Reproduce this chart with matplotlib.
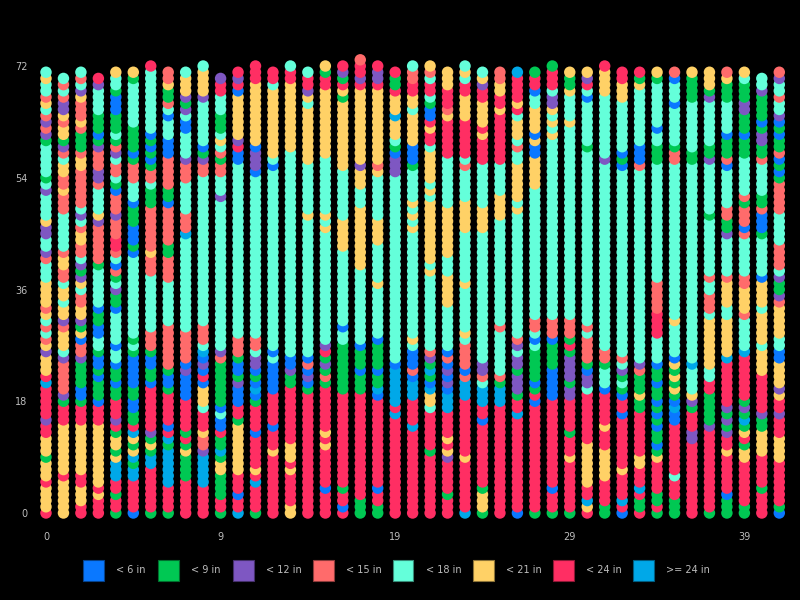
import matplotlib
matplotlib.use('Agg')
import matplotlib.pyplot as plt
from matplotlib.patches import Rectangle
from matplotlib.colors import to_rgb

# categories (legend order) and their one-letter codes used in the column runs
categories = ['< 6 in', '< 9 in', '< 12 in', '< 15 in', '< 18 in', '< 21 in', '< 24 in', '>= 24 in']
codes = ['B', 'G', 'P', 'S', 'C', 'Y', 'R', 'L']
palette = ['#0a78ff', '#00c853', '#7e57c2', '#ff6b6b', '#64ffda', '#ffd166', '#ff2e63', '#00a8e8']

# each column, bottom to top, as runs "<code><count>"
columns = [
    "R1 Y4 R1 Y3 G1 Y3 R2 P1 R5 L1 R1 Y3 P1 Y1 S1 C1 S1 C1 Y1 S1 Y4 C3 S1 P1 C2 P2 Y1 C4 P1 C1 G1 C5 G1 P1 S1 P1 S1 C1 Y1 S1 C2 Y1 C1",
    "Y6 R1 Y8 R3 G1 P1 S5 P1 C1 Y3 S1 P1 Y2 C1 Y2 C1 S2 Y2 S1 C6 S3 Y1 S2 Y2 C1 S1 P1 G1 Y2 S1 Y1 P2 S1 C1 S1 C1",
    "R2 Y3 R2 Y8 R3 G1 B2 G4 P1 S2 B1 Y1 G1 P1 Y2 S2 C1 Y1 P1 G1 P1 C1 S2 Y2 S1 C1 P1 C1 S6 Y2 S1 G3 S1 Y1 S3 Y1 P1 C1 S1 C1",
    "R3 Y1 R1 Y10 R3 B1 G3 B1 G1 B2 G1 C2 B2 G2 B1 C3 C3 G1 S6 P1 Y1 C4 S1 P2 S3 P1 G1 B1 G3 C4 P1 R1",
    "G1 R2 G1 R2 L3 Y1 G1 Y2 G1 R1 P1 R3 G2 B1 G2 B1 C2 B1 C5 B1 G2 P1 C1 G1 S1 B1 C1 S1 R2 S3 P1 S3 B1 G1 C1 S2 C1 P1 S1 G1 C1 G3 B3 G1 C2 Y1",
    "B1 R5 L2 G1 L1 Y1 G1 Y1 L1 R1 G2 B2 G2 B5 G1 C1 G1 C8 C5 B1 G1 B3 G3 B1 C3 S3 G1 B1 G4 C7 G1 Y1",
    "G1 R7 L2 G1 Y1 G1 P1 R7 B1 G2 B2 G1 S3 C7 C2 S3 Y1 S7 G3 C1 S2 G1 B1 G1 B1 G1 B1 C10 R1",
    "G1 R4 L6 G1 L1 R1 B1 R5 G1 B2 G1 S7 C6 C1 S4 G2 S6 B1 G2 S5 B3 C3 B1 C1 S1 G2 Y1 S2",
    "R6 G4 Y1 G1 R1 G1 R5 B4 P1 B1 S5 C7 C8 L1 S3 C5 S3 P1 C4 B2 C1 P1 G1 P1 Y3 C1",
    "R5 L5 P1 S2 Y1 R3 C1 Y3 B1 R1 B1 P1 B1 L1 C1 S3 C6 C18 S2 P1 G1 B1 C7 P1 Y4 C1",
    "G1 R2 G4 Y2 G1 L1 G2 R1 B2 C1 B1 G7 S1 P1 C10 C14 P1 C3 S2 G1 S1 C1 Y1 C1 G3 C3 R2 P1",
    "L1 R2 B1 R3 Y8 G1 R2 B3 P1 G1 B2 G1 S3 C8 C20 B2 R1 P1 Y7 B1 R1 P1 R1",
    "G1 R4 L1 R1 Y1 R5 B1 R4 G1 B1 L1 B1 G1 B1 P2 C1 S2 C8 C18 B1 P3 B1 Y10 R3",
    "R10 Y1 R3 B1 R5 B5 C1 B1 C10 C19 B1 C1 Y11 C1 R2",
    "Y2 R5 Y1 R1 Y3 R9 G2 P1 B2 C11 C22 Y11 R2 C1",
    "R20 G1 B1 P1 B1 S1 B1 C11 C11 Y1 C8 Y9 C1 Y1 P1 R2 C1",
    "R4 B1 R6 Y1 R1 Y1 R7 G1 S1 G1 P1 G1 R1 P1 C9 C9 Y1 C1 Y1 C9 Y11 R2 G1 Y1",
    "R1 B1 R2 G1 R15 G8 C2 B1 C6 C6 Y5 C8 Y11 G1 Y1 R1 G1 P1 R1",
    "G3 R17 G3 B1 G3 B1 C9 C3 Y10 C3 Y3 P1 Y12 R1 P1 R2 S1",
    "G2 R2 B1 R14 B1 L1 G2 B1 G4 B1 C8 Y1 C6 Y4 C7 Y1 S1 Y12 R1 P2 R1",
    "R16 L1 R1 L6 B1 C12 C18 P3 B1 G1 C1 Y3 L1 Y3 R1 G2 R1",
    "R14 L1 R4 L3 B1 S1 B3 C1 Y1 C8 C9 Y1 C1 Y1 C1 Y1 C5 G1 B3 Y5 C1 Y2 R2 S2 C1",
    "R10 G1 R6 C1 Y2 L1 B1 G1 L1 G1 P1 S1 C10 C2 Y1 C1 Y10 C1 Y1 C1 Y5 C1 R2 Y1 R1 B2 G1 C1 R2 C1 S1 Y1",
    "R3 G1 R5 P1 Y1 R1 Y1 R4 L3 B1 P1 B1 P1 B1 S1 B1 C7 Y3 Y2 C3 Y8 C8 R6 Y1 S1 R3 Y3",
    "L1 R8 Y1 R9 L3 S1 B1 S4 C1 Y1 C7 Y1 C8 Y5 C5 S1 C1 R6 Y4 R2 C1 Y1 C1",
    "G1 Y3 G1 R10 B1 R2 L3 C1 S1 P2 C12 C9 Y4 C7 R4 Y1 R1 Y4 R2 P1 Y1 C1",
    "R18 L3 G1 S1 C7 S1 C6 C11 Y4 C5 R8 Y1 R2 Y2 S2",
    "B1 R15 L1 R2 G1 P3 G1 P2 C1 P1 S1 C8 C12 Y1 C1 Y6 C2 S1 C1 Y3 C1 R1 Y1 R4 L1",
    "G1 R17 B1 R1 G1 B1 G5 C1 B1 C1 S2 C5 C16 Y5 B2 Y1 B1 Y4 C2 B1 R2 G1",
    "G1 R3 B1 R14 B5 G4 B1 S3 C5 C24 Y1 C1 Y1 C1 Y1 P2 C1 R3 G1",
    "G1 R8 Y1 R3 G1 R5 P2 G1 P4 G1 R1 G1 S3 C5 C26 Y1 C4 Y1 G2 Y1",
    "R1 Y1 L1 R2 Y7 R8 C1 P2 B1 G1 S4 C1 S1 C6 C22 G1 C7 B1 C1 R1 P1 Y1",
    "G2 R4 Y5 R3 Y1 R5 B1 C3 G1 S2 C10 C20 P1 C10 Y4 R1",
    "B1 R1 L1 R4 Y1 R8 B1 R2 B1 G1 C1 G1 P1 C1 S1 C11 C19 B1 G1 B1 C8 Y3 R2",
    "R1 G2 R1 L1 R3 Y2 R7 G2 Y1 G3 S1 P1 C12 C19 S1 B3 C9 Y1 G1 R1",
    "G1 R1 G2 R5 Y1 G1 B1 G2 B1 G1 B1 G1 B1 G2 B1 G2 B1 C4 R4 S4 S1 C19 G3 C2 B1 C7 G1 Y1",
    "G3 R3 C1 R8 B2 L1 B1 G1 Y1 G1 Y1 G1 Y1 B1 C5 Y1 C5 C20 S2 G1 C6 B1 C3 B1 S1",
    "R12 P2 R3 G1 P1 Y1 C4 L1 C12 C20 G2 C8 G4 Y1",
    "G1 R13 P1 G5 R2 C2 Y8 C1 S3 C1 C1 S1 C9 G1 C8 P1 G2 C7 P1 G1 Y3",
    "G3 B1 R6 Y1 R2 P1 G1 P1 G1 P1 R7 L1 Y6 C2 Y3 Y1 S1 C6 P1 G2 S2 C6 B1 S1 G3 B1 C5 G3 Y1 S1",
    "G2 R7 Y2 G1 R1 Y1 G1 L1 G1 P1 G1 R7 L1 C5 S1 Y4 S2 C6 S1 B1 S3 G1 S1 C6 G3 B1 G3 P2 G3 C1 Y1",
    "R4 G1 R5 Y4 G2 P1 R6 Y4 C1 Y5 C1 Y3 Y1 B1 C6 G1 B3 S1 G2 C5 S1 G2 P2 G1 B1 G4 P1 C2",
    "B1 G1 R7 Y4 R3 P1 R2 Y1 P1 Y4 B2 C2 Y5 S1 P1 G1 G1 P1 C1 S4 C5 S5 G1 B1 G1 B1 S1 G2 B1 G1 B1 P1 C2 S1 C2 P1 S1",
]

x_tick_pos = [0, 10, 20, 30, 40]
x_tick_labels = ['0', '9', '19', '29', '39']
y_ticks = [0, 18, 36, 54, 72]


def expand(runs):
    out = []
    for tok in runs.split():
        out += [tok[0]] * int(tok[1:])
    return out


color_of = dict(zip(codes, palette))
text_color = '#bdbdbd'

fig = plt.figure(figsize=(8, 6), dpi=100, facecolor='black')
ax = fig.add_axes([30 / 800, 75 / 600, 765 / 800, 475 / 600])
ax.set_facecolor('black')

for i, col in enumerate(columns):
    seq = expand(col)
    ax.scatter([i] * len(seq), range(len(seq)), c=[color_of[s] for s in seq],
               s=68, linewidths=0, zorder=2)

ax.set_xlim(-0.916, 42.90)
ax.set_ylim(-1.933, 74.58)
for sp in ax.spines.values():
    sp.set_visible(False)
ax.set_xticks(x_tick_pos)
ax.set_xticklabels(x_tick_labels)
ax.set_yticks(y_ticks)
ax.set_yticklabels([str(v) for v in y_ticks])
ax.tick_params(axis='both', length=0, colors=text_color, labelsize=7)
ax.tick_params(axis='x', pad=5)
ax.tick_params(axis='y', pad=2)

# legend row under the plot
legend_x = [83, 158, 233, 313, 393, 473, 553, 633]
for px, name, colr in zip(legend_x, categories, palette):
    edge = tuple(v * 0.55 for v in to_rgb(colr))
    fig.patches.append(Rectangle((px / 800, 1 - 581 / 600), 20.5 / 800, 21 / 600,
                                 transform=fig.transFigure, facecolor=colr,
                                 edgecolor=edge, linewidth=0.8))
    fig.text((px + 33) / 800, 1 - 570 / 600, name, color=text_color,
             fontsize=7, va='center', ha='left')

fig.savefig('out.png', dpi=100, facecolor='black')
